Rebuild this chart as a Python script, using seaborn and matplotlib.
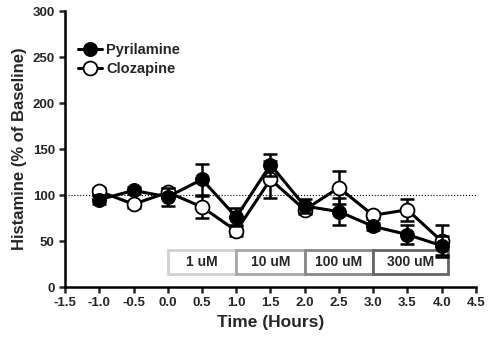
import numpy as np
import pandas as pd
import seaborn as sns
import matplotlib.pyplot as plt
from matplotlib.patches import Rectangle

sns.set_style("ticks")
plt.rcParams["font.family"] = ["Liberation Sans", "DejaVu Sans"]
plt.rcParams["font.weight"] = "bold"
plt.rcParams["axes.unicode_minus"] = False

time = [-1.0, -0.5, 0.0, 0.5, 1.0, 1.5, 2.0, 2.5, 3.0, 3.5, 4.0]
pyrilamine = [95, 105, 98, 117, 76, 133, 88, 82, 66, 57, 45]
pyrilamine_err = [5, 4, 10, 17, 10, 12, 8, 15, 4, 10, 10]
clozapine = [104, 90, 103, 87, 61, 117, 84, 108, 78, 84, 50]
clozapine_err = [4, 4, 5, 12, 6, 20, 5, 18, 4, 12, 17]

doses = ["1 uM", "10 uM", "100 uM", "300 uM"]
dose_start = [0.0, 1.0, 2.0, 3.0]
dose_end = [1.0, 2.0, 3.0, 4.1]
dose_edge = ["#d0d0d0", "#a8a8a8", "#888888", "#666666"]

df = pd.DataFrame({
    "time": time * 2,
    "value": pyrilamine + clozapine,
    "drug": ["Pyrilamine"] * len(time) + ["Clozapine"] * len(time),
})

fig, ax = plt.subplots(figsize=(4.9, 3.45), dpi=100)
fig.subplots_adjust(left=0.133, right=0.971, bottom=0.168, top=0.968)

ax.axhline(100, color="black", linestyle=":", linewidth=0.8, zorder=1)

for s, e, lab, col in zip(dose_start, dose_end, doses, dose_edge):
    ax.add_patch(Rectangle((s, 14), e - s, 26, facecolor="white",
                           edgecolor=col, linewidth=2, zorder=2))
    ax.text((s + e) / 2, 27, lab, ha="center", va="center",
            fontsize=10, fontweight="bold", zorder=3)

ax.errorbar(time, clozapine, yerr=clozapine_err, fmt="none", ecolor="black",
            elinewidth=1.8, capsize=5, capthick=1.8, zorder=4)
ax.errorbar(time, pyrilamine, yerr=pyrilamine_err, fmt="none", ecolor="black",
            elinewidth=1.8, capsize=5, capthick=1.8, zorder=6)

sns.lineplot(data=df[df.drug == "Clozapine"], x="time", y="value", ax=ax,
             color="black", linewidth=2.2, marker="o", markersize=10,
             markerfacecolor="white", markeredgecolor="black", markeredgewidth=1.3,
             label="Clozapine", zorder=5)
sns.lineplot(data=df[df.drug == "Pyrilamine"], x="time", y="value", ax=ax,
             color="black", linewidth=2.2, marker="o", markersize=10,
             markerfacecolor="black", markeredgecolor="black",
             label="Pyrilamine", zorder=7)

h, l = ax.get_legend_handles_labels()
leg = ax.legend(h[::-1], l[::-1], loc="upper left", bbox_to_anchor=(0.0, 0.93),
                frameon=False, fontsize=10.5, handlelength=1.6, handletextpad=0.3,
                labelspacing=0.3)
for t in leg.get_texts():
    t.set_fontweight("bold")

ax.set_xlim(-1.5, 4.5)
ax.set_ylim(0, 300)
ax.set_xticks(np.arange(-1.5, 4.51, 0.5))
ax.set_yticks(np.arange(0, 301, 50))
ax.set_xlabel("Time (Hours)", fontsize=12.5, fontweight="bold")
ax.set_ylabel("Histamine (% of Baseline)", fontsize=12, fontweight="bold")
ax.tick_params(labelsize=9.5, width=1.8, length=4, direction="out")
for lab in ax.get_xticklabels() + ax.get_yticklabels():
    lab.set_fontweight("bold")
for sp in ["left", "bottom"]:
    ax.spines[sp].set_linewidth(1.8)
    ax.spines[sp].set_color("black")
sns.despine(ax=ax)

fig.savefig("out.png", dpi=100)
